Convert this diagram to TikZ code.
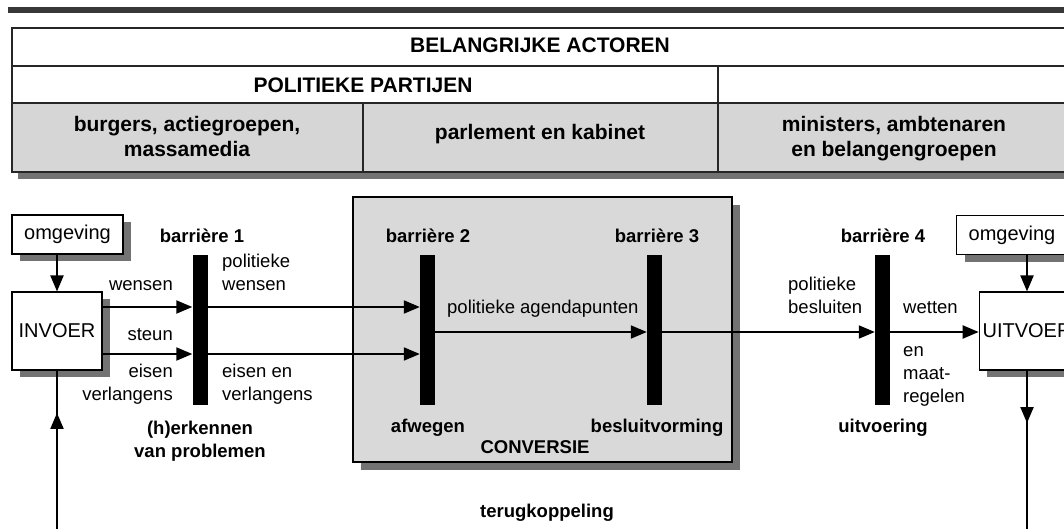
\documentclass[tikz,border=0pt]{standalone}
\usepackage{fontspec}
\setmainfont{Liberation Sans}
\usetikzlibrary{arrows.meta,shadows,decorations.markings}
\definecolor{cellgray}{gray}{0.84}
\definecolor{boxgray}{gray}{0.85}
\definecolor{shadegray}{gray}{0.45}
\definecolor{bargray}{gray}{0.22}
\tikzset{
  tabline/.style={line width=1.1pt, draw=black!85},
  tabtext/.style={font=\fontsize{21}{25}\selectfont\bfseries, align=center, inner sep=0pt},
  lbl/.style={font=\fontsize{18.5}{23}\selectfont, inner sep=0pt},
  blbl/.style={font=\fontsize{18.5}{23}\selectfont\bfseries, align=center, inner sep=0pt},
  envbox/.style={draw, fill=white, line width=1.1pt, minimum width=111pt, minimum height=39pt,
    font=\fontsize{20}{24}\selectfont,
    general shadow={fill=shadegray, shadow xshift=8pt, shadow yshift=-7pt}},
  iobox/.style={envbox, minimum width=90pt, minimum height=78pt},
  barrier/.style={fill=black, minimum width=15pt, minimum height=150pt, inner sep=0pt},
  flow/.style={line width=2pt, -{Triangle[length=16pt,width=13pt]}},
  midflow/.style={line width=2pt, postaction={decorate},
    decoration={markings, mark=at position #1 with {\arrow{Triangle[length=16pt,width=13pt]}}}}
}
\begin{document}
\begin{tikzpicture}[x=1pt, y=-1pt]
  \useasboundingbox (0,0) rectangle (1064,529);
  \clip (0,0) rectangle (1064,529);

  % actoren table
  \fill[bargray] (8,7) rectangle (1064,13);
  \fill[shadegray] (18,172) rectangle (1064,179);
  \fill[cellgray] (12,103) rectangle (1064,172);
  \draw[tabline] (1064,28) -- (12,28) -- (12,172) -- (1064,172);
  \draw[tabline] (12,66) -- (1064,66);
  \draw[tabline] (12,103) -- (1064,103);
  \draw[tabline] (718,66) -- (718,172);
  \draw[tabline] (363,103) -- (363,172);
  \node[tabtext, anchor=base] (actoren) at (540,53) {BELANGRIJKE ACTOREN};
  \node[tabtext, anchor=base] (partijen) at (363,93) {POLITIEKE PARTIJEN};
  \node[tabtext, anchor=base] (burgers) at (187,157) {burgers, actiegroepen,\\massamedia};
  \node[tabtext, anchor=base] (parlement) at (540,140) {parlement en kabinet};
  \node[tabtext, anchor=base] (ministers) at (894,157) {ministers, ambtenaren\\en belangengroepen};

  % conversie
  \node[draw, fill=boxgray, line width=1.1pt, minimum width=379pt, minimum height=265pt,
    general shadow={fill=shadegray, shadow xshift=8pt, shadow yshift=-8pt}] (conv) at (542.5,329.5) {};
  \node[blbl, anchor=base] (convlabel) at (535,453) {CONVERSIE};

  % boxes
  \node[envbox] (omg1) at (67.5,234.5) {omgeving};
  \node[iobox] (invoer) at (57,331) {INVOER};
  \node[envbox] (omg2) at (1012,235) {omgeving};
  \node[iobox, minimum width=94pt] (uitvoer) at (1027,331) {UITVOER};

  % barrieres
  \node[barrier] (b1) at (200,330) {};
  \node[barrier] (b2) at (427.5,330) {};
  \node[barrier] (b3) at (654.5,330) {};
  \node[barrier] (b4) at (882.5,330) {};
  \node[blbl, anchor=base] (t1) at (202,243) {barrière 1};
  \node[blbl, anchor=base] (t2) at (428,243) {barrière 2};
  \node[blbl, anchor=base] (t3) at (657,243) {barrière 3};
  \node[blbl, anchor=base] (t4) at (883,243) {barrière 4};
  \node[blbl, anchor=base] (f1) at (200,457) {(h)erkennen\\van problemen};
  \node[blbl, anchor=base] (f2) at (428,432) {afwegen};
  \node[blbl, anchor=base] (f3) at (657,432) {besluitvorming};
  \node[blbl, anchor=base] (f4) at (883,432) {uitvoering};
  \node[blbl, anchor=base] (terug) at (547,517) {terugkoppeling};

  % labels
  \node[lbl, anchor=base east] (wensen) at (173,290) {wensen};
  \node[lbl, anchor=base east] (steun) at (173,340) {steun};
  \node[lbl, anchor=base east, align=right] (eisen) at (173,400) {eisen\\verlangens};
  \node[lbl, anchor=base west, align=left] (polwensen) at (222,290) {politieke\\wensen};
  \node[lbl, anchor=base west, align=left] (eisenen) at (222,400) {eisen en\\verlangens};
  \node[lbl, anchor=base west] (agenda) at (447,313) {politieke agendapunten};
  \node[lbl, anchor=base west, align=left] (besluiten) at (788,313) {politieke\\besluiten};
  \node[lbl, anchor=base west] (wetten) at (903,313) {wetten};
  \node[lbl, anchor=base west, align=left] (maatregelen) at (903,402) {en\\maat-\\regelen};

  % pijlen
  \coordinate (wy) at (0,307);
  \coordinate (sy) at (0,354);
  \coordinate (ay) at (0,332);
  \coordinate (fbl) at (57,540);
  \coordinate (fbr) at (1027,540);
  \draw[flow] (omg1.south -| invoer) -- (invoer.north);
  \draw[flow] (omg2.south -| uitvoer) -- (uitvoer.north);
  \draw[flow] (invoer.east |- wy) -- (b1.west |- wy);
  \draw[flow] (b1.east |- wy) -- (b2.west |- wy);
  \draw[flow] (invoer.east |- sy) -- (b1.west |- sy);
  \draw[flow] (b1.east |- sy) -- (b2.west |- sy);
  \draw[flow] (b2.east |- ay) -- (b3.west |- ay);
  \draw[flow] (b3.east |- ay) -- (b4.west |- ay);
  \draw[flow] (b4.east |- ay) -- (uitvoer.west |- ay);
  \draw[midflow=0.75] (fbl) -- (invoer.south);
  \draw[midflow=0.31] (uitvoer.south) -- (fbr);
\end{tikzpicture}
\end{document}
